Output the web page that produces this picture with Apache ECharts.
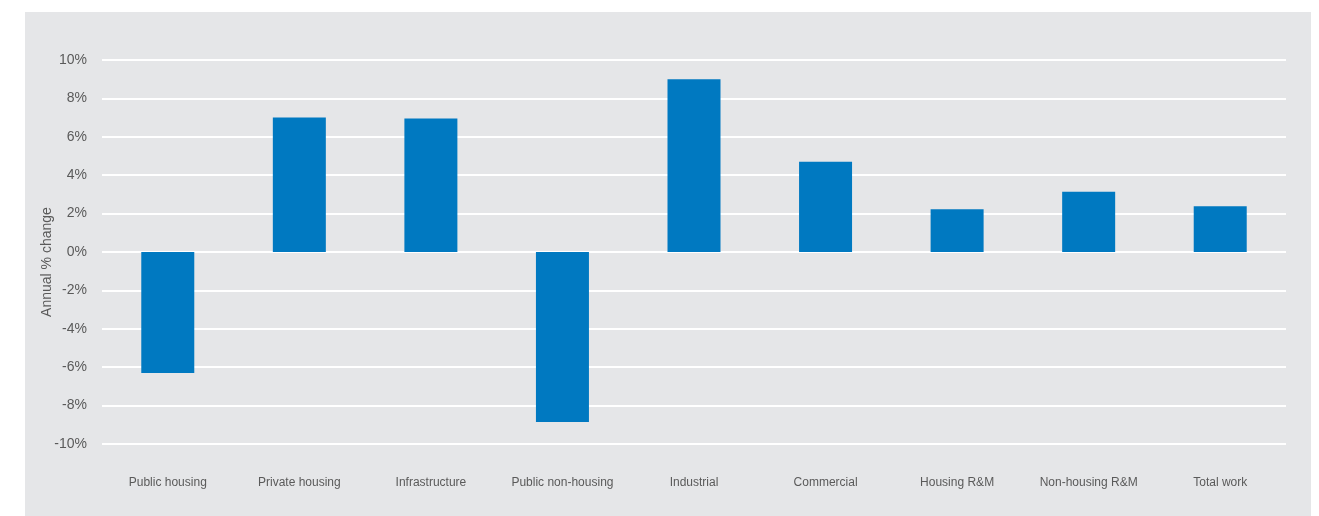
<!DOCTYPE html>
<html>
<head>
<meta charset="utf-8">
<script src="https://cdn.jsdelivr.net/npm/echarts@6/dist/echarts.min.js"></script>
<style>
  html, body { margin: 0; padding: 0; background: #ffffff; }
  #chart { width: 1319px; height: 516px; }
</style>
</head>
<body>
<div id="chart"></div>
<script>
// Construction output forecast by sector, annual % change
const categories = ['Public housing', 'Private housing', 'Infrastructure', 'Public non-housing',
  'Industrial', 'Commercial', 'Housing R&M', 'Non-housing R&M', 'Total work'];
const annualChange = [-6.3, 7.0, 6.95, -8.85, 9.0, 4.7, 2.23, 3.14, 2.38];
const yTicks = { min: -10, max: 10, interval: 2 };

const chart = echarts.init(document.getElementById('chart'), null, { renderer: 'canvas' });
const font = '"Liberation Sans", Arial, Helvetica, sans-serif';

chart.setOption({
  backgroundColor: '#ffffff',
  animation: false,
  graphic: [{
    type: 'rect',
    z: -10,
    silent: true,
    shape: { x: 25, y: 12, width: 1286, height: 510 },
    style: { fill: '#e5e6e8' }
  }],
  grid: { left: 102, right: 33, top: 60, bottom: 72, containLabel: false },
  xAxis: {
    type: 'category',
    data: categories,
    axisLine: { show: false },
    axisTick: { show: false },
    axisLabel: { color: '#5a5a5a', fontSize: 12, fontFamily: font, margin: 33, interval: 0 },
    splitLine: { show: false }
  },
  yAxis: {
    type: 'value',
    min: yTicks.min,
    max: yTicks.max,
    interval: yTicks.interval,
    name: 'Annual % change',
    nameLocation: 'middle',
    nameGap: 48,
    nameMoveOverlap: false,
    nameTextStyle: { color: '#5a5a5a', fontSize: 14, fontFamily: font, padding: [0, 20, 0, 0] },
    axisLine: { show: false },
    axisTick: { show: false },
    axisLabel: { color: '#5a5a5a', fontSize: 14, fontFamily: font, margin: 15, formatter: '{value}%' },
    splitLine: { show: true, lineStyle: { color: '#ffffff', width: 2 } }
  },
  series: [{
    type: 'bar',
    data: annualChange,
    barWidth: 53,
    itemStyle: { color: '#0079c1' }
  }]
});
</script>
</body>
</html>
